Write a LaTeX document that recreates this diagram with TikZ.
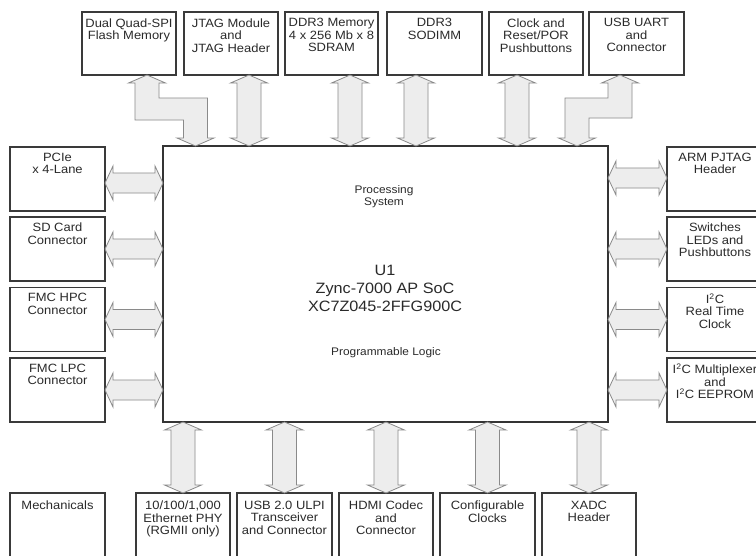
\documentclass[tikz,border=0pt]{standalone}
\usepackage{fontspec}
\setmainfont{Liberation Sans}[FakeStretch=1.08]
\usetikzlibrary{calc}
\definecolor{boxline}{HTML}{3A3A3A}
\definecolor{arrline}{HTML}{8A8A8A}
\definecolor{arrfill}{HTML}{EDEDED}
\definecolor{txt}{HTML}{2A2A2A}
\newcommand\blk[4]{\begin{minipage}[t][#2pt][t]{#1pt}\centering\vspace*{#3pt}\fontsize{12}{12.5}\selectfont #4\end{minipage}}
\newcommand\varrow[4]{%
  \path[fatarrow] let \p1=($(#4.south)+(#1,0)$), \p2=(#2.south), \p3=(#3.north) in
  (\x1,\y2) -- (\x1+18.5pt,\y2-8pt) -- (\x1+12pt,\y2-8pt) -- (\x1+12pt,\y3+8pt) -- (\x1+18.5pt,\y3+8pt)
  -- (\x1,\y3) -- (\x1-18.5pt,\y3+8pt) -- (\x1-12pt,\y3+8pt) -- (\x1-12pt,\y2-8pt) -- (\x1-18.5pt,\y2-8pt) -- cycle;}
\newcommand\harrow[4]{%
  \path[fatarrow] let \p1=($(#4.center)+(0,#1)$), \p2=(#2.east), \p3=(#3.west) in
  (\x2,\y1) -- (\x2+8pt,\y1+17pt) -- (\x2+8pt,\y1+10pt) -- (\x3-8pt,\y1+10pt) -- (\x3-8pt,\y1+17pt)
  -- (\x3,\y1) -- (\x3-8pt,\y1-17pt) -- (\x3-8pt,\y1-10pt) -- (\x2+8pt,\y1-10pt) -- (\x2+8pt,\y1-17pt) -- cycle;}
\begin{document}
\begin{tikzpicture}[x=1pt,y=-1pt,
  blkbox/.style={draw=boxline, line width=1.3pt, inner sep=0pt, outer sep=0pt, text=txt, fill=white},
  mainbox/.style={draw=boxline!90!black, line width=2.3pt, inner sep=0pt, outer sep=0pt, fill=white,
    minimum width=445pt, minimum height=276pt},
  maintxt/.style={align=center, text=txt, inner sep=0pt},
  fatarrow/.style={draw=arrline, fill=arrfill, line width=0.8pt, line join=miter}]
\useasboundingbox (0,0) rectangle (756,555);
\clip (0,0) rectangle (756,555);
\fill[white] (0,0) rectangle (756,555);
% main SoC
\node[mainbox] (main) at (385.5,284) {};
\node[maintxt, font=\fontsize{11}{12}\selectfont] (ps) at (384,197) {Processing\\System};
\node[maintxt, font=\fontsize{15}{18}\selectfont] (u1) at (385,288) {U1\\Zync-7000 AP SoC\\XC7Z045-2FFG900C};
\node[maintxt, font=\fontsize{11}{12}\selectfont] (pl) at (386,353) {Programmable Logic};
% top boxes
\node[blkbox] (spi) at (129,43.5) {\blk{94}{63}{6.5}{Dual Quad-SPI\\Flash Memory}};
\node[blkbox] (jtag) at (231,43.5) {\blk{94}{63}{6.5}{JTAG Module\\and\\JTAG Header}};
\node[blkbox] (ddr) at (331.5,43.5) {\blk{93}{63}{6.5}{DDR3 Memory\\4 x 256 Mb x 8\\SDRAM}};
\node[blkbox] (sodimm) at (434.5,43.5) {\blk{95}{63}{6.5}{DDR3\\SODIMM}};
\node[blkbox] (clk) at (536,43.5) {\blk{94}{63}{6.5}{Clock and\\Reset/POR\\Pushbuttons}};
\node[blkbox] (uart) at (636.5,43.5) {\blk{95}{63}{6.5}{USB UART\\and\\Connector}};
% left boxes
\node[blkbox] (pcie) at (57.5,179) {\blk{95}{64}{6}{PCIe\\x 4-Lane}};
\node[blkbox] (sd) at (57.5,249) {\blk{95}{64}{6}{SD Card\\Connector}};
\node[blkbox] (hpc) at (57.5,319.5) {\blk{95}{64}{6}{FMC HPC\\Connector}};
\node[blkbox] (lpc) at (57.5,390) {\blk{95}{64}{6}{FMC LPC\\Connector}};
% right boxes
\node[blkbox] (arm) at (715,179) {\blk{96}{64}{6}{ARM PJTAG\\Header}};
\node[blkbox] (sw) at (715,249) {\blk{96}{64}{6}{Switches\\LEDs and\\Pushbuttons}};
\node[blkbox] (rtc) at (715,319.5) {\blk{96}{64}{6}{I\textsuperscript{2}C\\Real Time\\Clock}};
\node[blkbox] (mux) at (715,390) {\blk{96}{64}{6}{I\textsuperscript{2}C Multiplexer\\and\\I\textsuperscript{2}C EEPROM}};
% bottom boxes
\node[blkbox] (mech) at (57.5,529) {\blk{95}{72}{8}{Mechanicals}};
\node[blkbox] (eth) at (183,529) {\blk{94}{72}{8}{10/100/1,000\\Ethernet PHY\\(RGMII only)}};
\node[blkbox] (usb) at (284.5,529) {\blk{95}{72}{8}{USB 2.0 ULPI\\Transceiver\\and Connector}};
\node[blkbox] (hdmi) at (386,529) {\blk{94}{72}{8}{HDMI Codec\\and\\Connector}};
\node[blkbox] (cfg) at (487.5,529) {\blk{95}{72}{8}{Configurable\\Clocks}};
\node[blkbox] (xadc) at (589,529) {\blk{94}{72}{8}{XADC\\Header}};
% top arrows
\path[fatarrow] let \p1=($(spi.south)+(18,0)$), \p2=(main.north) in
  (\x1,\y1) -- (\x1+18.5pt,\y1-8pt) -- (\x1+12pt,\y1-8pt) -- (\x1+12pt,\y1-23pt) -- (\x1+60.5pt,\y1-23pt)
  -- (\x1+60.5pt,\y2+8pt) -- (\x1+67pt,\y2+8pt) -- (\x1+48.5pt,\y2) -- (\x1+30pt,\y2+8pt) -- (\x1+36.5pt,\y2+8pt)
  -- (\x1+36.5pt,\y1-45pt) -- (\x1-12pt,\y1-45pt) -- (\x1-12pt,\y1-8pt) -- (\x1-18.5pt,\y1-8pt) -- cycle;
\varrow{18}{jtag}{main}{jtag}
\varrow{18.5}{ddr}{main}{ddr}
\varrow{-18.5}{sodimm}{main}{sodimm}
\varrow{-19}{clk}{main}{clk}
\path[fatarrow] let \p1=($(uart.south)+(-16.5,0)$), \p2=(main.north) in
  (\x1,\y1) -- (\x1+18.5pt,\y1-8pt) -- (\x1+12pt,\y1-8pt) -- (\x1+12pt,\y1-43pt) -- (\x1-31pt,\y1-43pt)
  -- (\x1-31pt,\y2+8pt) -- (\x1-24.5pt,\y2+8pt) -- (\x1-43pt,\y2) -- (\x1-61.5pt,\y2+8pt) -- (\x1-55pt,\y2+8pt)
  -- (\x1-55pt,\y1-23pt) -- (\x1-12pt,\y1-23pt) -- (\x1-12pt,\y1-8pt) -- (\x1-18.5pt,\y1-8pt) -- cycle;
% left arrows
\harrow{4}{pcie}{main}{pcie}
\harrow{0}{sd}{main}{sd}
\harrow{0}{hpc}{main}{hpc}
\harrow{0}{lpc}{main}{lpc}
% right arrows
\harrow{-1}{main}{arm}{arm}
\harrow{0}{main}{sw}{sw}
\harrow{0}{main}{rtc}{rtc}
\harrow{0}{main}{mux}{mux}
% bottom arrows
\varrow{0}{main}{eth}{eth}
\varrow{0}{main}{usb}{usb}
\varrow{0}{main}{hdmi}{hdmi}
\varrow{0}{main}{cfg}{cfg}
\varrow{0}{main}{xadc}{xadc}
\end{tikzpicture}
\end{document}
